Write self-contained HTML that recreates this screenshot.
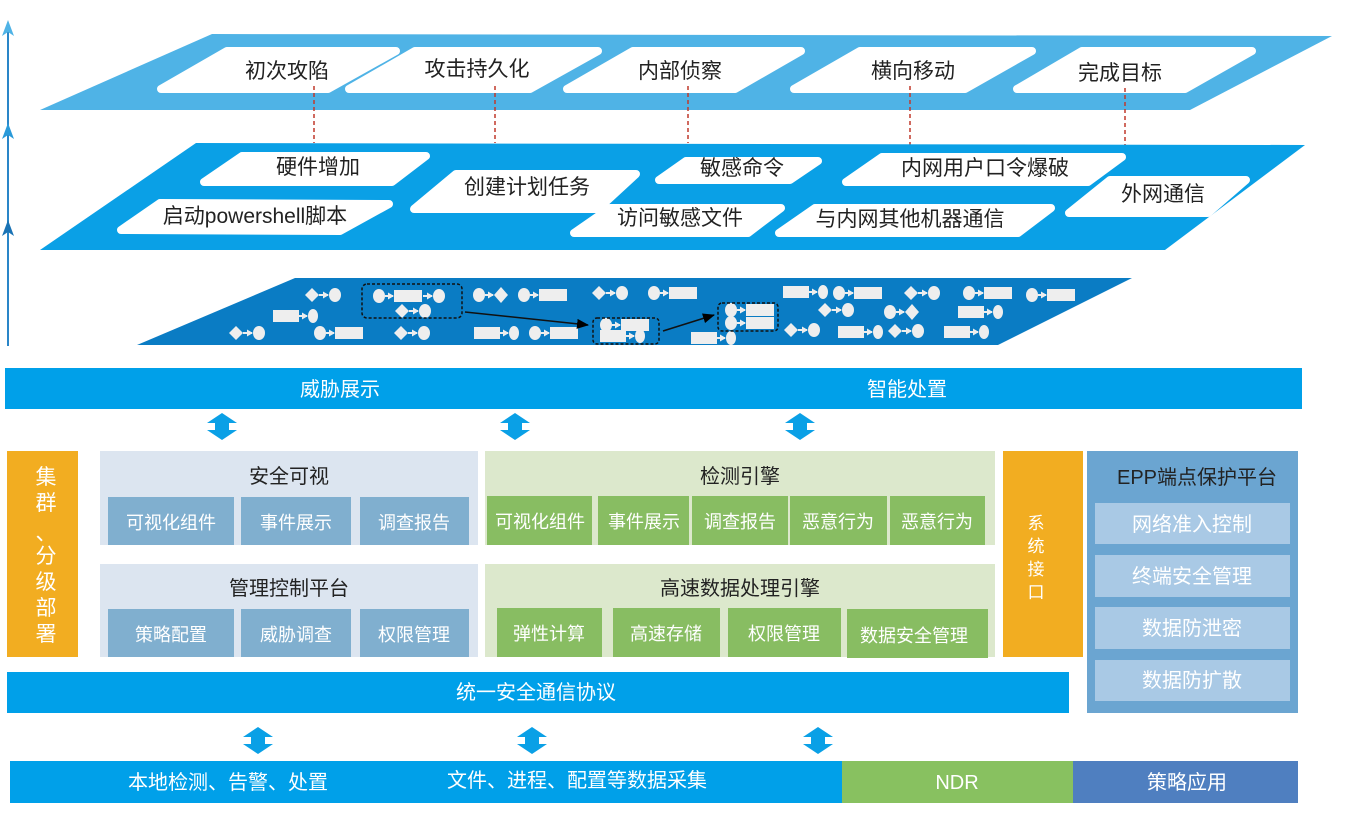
<!DOCTYPE html>
<html><head><meta charset="utf-8"><style>
html,body{margin:0;padding:0;background:#fff;}
svg{display:block;}
text{font-family:"Liberation Sans","Noto Sans CJK SC",sans-serif;}
</style></head><body>
<svg width="1356" height="814" viewBox="0 0 1356 814" xmlns="http://www.w3.org/2000/svg">
<defs>
<marker id="ah" markerUnits="userSpaceOnUse" markerWidth="6" markerHeight="7" refX="5" refY="3.5" orient="auto"><path d="M0,0 L6,3.5 L0,7 z" fill="#eee"/></marker>
<marker id="bh" markerUnits="userSpaceOnUse" markerWidth="12" markerHeight="10" refX="11" refY="5" orient="auto"><path d="M0,0 L12,5 L0,10 z" fill="#000"/></marker>
<g id="DC"><path d="M0,0 L7,-7 L14,0 L7,7z" fill="#eee"/><line x1="14" y1="0" x2="23" y2="0" stroke="#eee" stroke-width="2" marker-end="url(#ah)"/><ellipse cx="30" cy="0" rx="6" ry="7" fill="#eee"/></g>
<g id="CR"><ellipse cx="6" cy="0" rx="6" ry="7" fill="#eee"/><line x1="12" y1="0" x2="20" y2="0" stroke="#eee" stroke-width="2" marker-end="url(#ah)"/><rect x="21" y="-6" width="28" height="12" fill="#eee"/></g>
<g id="RC"><rect x="0" y="-6" width="26" height="12" fill="#eee"/><line x1="26" y1="0" x2="34" y2="0" stroke="#eee" stroke-width="2" marker-end="url(#ah)"/><ellipse cx="40" cy="0" rx="5" ry="7" fill="#eee"/></g>
<g id="CD"><ellipse cx="6" cy="0" rx="6" ry="7" fill="#eee"/><line x1="12" y1="0" x2="20" y2="0" stroke="#eee" stroke-width="2" marker-end="url(#ah)"/><path d="M21,0 L28,-8 L35,0 L28,8z" fill="#eee"/></g>
<g id="DA"><path d="M0,0 L15,10 L7,10 L7,17 L15,17 L0,27 L-15,17 L-7,17 L-7,10 L-15,10z" fill="#0aa0e6"/></g>
</defs>

<!-- left axis -->
<line x1="8" y1="24" x2="8" y2="346" stroke="#2a86c8" stroke-width="2"/>
<path d="M8,20 L2,36 L8,32 L14,36z" fill="#4fb3e6"/>
<path d="M8,123 L2,139 L8,135 L14,139z" fill="#2a9ad9"/>
<path d="M8,220 L2,236 L8,232 L14,236z" fill="#1a73b5"/>

<!-- top layer -->
<polygon points="40,110 212,34 1332,36 1190,110" fill="#4fb3e6"/>
<g fill="#fff" stroke="#fff" stroke-width="8" stroke-linejoin="round">
<polygon points="161,89 227,51 396,51 328,89"/>
<polygon points="349,89 415,51 598,51 530,89"/>
<polygon points="567,89 633,51 801,51 735,89"/>
<polygon points="794,89 860,51 1032,51 965,89"/>
<polygon points="1017,89 1082,51 1252,51 1185,89"/>
</g>
<g font-size="21" fill="#222" text-anchor="middle">
<text x="287" y="78">初次攻陷</text>
<text x="477" y="76">攻击持久化</text>
<text x="680" y="78">内部侦察</text>
<text x="913" y="78">横向移动</text>
<text x="1120" y="80">完成目标</text>
</g>
<g stroke="#c0392b" stroke-width="1.5" stroke-dasharray="4,3">
<line x1="314" y1="86" x2="314" y2="143"/>
<line x1="495" y1="86" x2="495" y2="143"/>
<line x1="688" y1="86" x2="688" y2="143"/>
<line x1="910" y1="86" x2="910" y2="145"/>
<line x1="1125" y1="88" x2="1125" y2="145"/>
</g>

<!-- second layer -->
<polygon points="40,250 196,143 1305,145 1165,250" fill="#0aa0e6"/>
<g fill="#fff" stroke="#fff" stroke-width="8" stroke-linejoin="round">
<polygon points="204,182 242,156 426,156 392,182"/>
<polygon points="121,230 160,203 389,204 340,231"/>
<polygon points="414,209 456,174 636,174 598,209"/>
<polygon points="659,180 686,161 818,161 790,180"/>
<polygon points="574,233 610,208 781,208 748,233"/>
<polygon points="846,182 882,157 1122,157 1088,182"/>
<polygon points="779,233 815,208 1051,208 1018,233"/>
<polygon points="1069,213 1110,180 1246,180 1208,213"/>
</g>
<g font-size="21" fill="#222" text-anchor="middle">
<text x="318" y="174">硬件增加</text>
<text x="255" y="223">启动powershell脚本</text>
<text x="527" y="194">创建计划任务</text>
<text x="742" y="175">敏感命令</text>
<text x="680" y="225">访问敏感文件</text>
<text x="985" y="175">内网用户口令爆破</text>
<text x="910" y="226">与内网其他机器通信</text>
<text x="1163" y="201">外网通信</text>
</g>

<!-- third layer -->
<polygon points="137,345 295,278 1132,278 998,345" fill="#0a7cc4"/>
<g>
<use href="#DC" x="305" y="295"/>
<use href="#CD" x="473" y="295"/>
<use href="#CR" x="518" y="295"/>
<use href="#DC" x="592" y="293"/>
<use href="#CR" x="648" y="293"/>
<use href="#RC" x="783" y="292"/>
<use href="#CR" x="833" y="293"/>
<use href="#DC" x="904" y="293"/>
<use href="#CR" x="963" y="293"/>
<use href="#CR" x="1026" y="295"/>
<use href="#RC" x="273" y="316"/>
<use href="#DC" x="818" y="310"/>
<use href="#CD" x="884" y="312"/>
<use href="#RC" x="958" y="312"/>
<use href="#DC" x="229" y="333"/>
<use href="#CR" x="314" y="333"/>
<use href="#DC" x="394" y="333"/>
<use href="#RC" x="474" y="333"/>
<use href="#CR" x="529" y="333"/>
<use href="#RC" x="691" y="338"/>
<use href="#DC" x="784" y="330"/>
<use href="#RC" x="838" y="332"/>
<use href="#DC" x="888" y="331"/>
<use href="#RC" x="944" y="332"/>
<use href="#CR" x="373" y="296"/>
<line x1="423" y1="296" x2="432" y2="296" stroke="#eee" stroke-width="2" marker-end="url(#ah)"/>
<ellipse cx="439" cy="296" rx="6" ry="7" fill="#eee"/>
<use href="#DC" x="395" y="311"/>
<use href="#CR" x="600" y="325"/>
<use href="#RC" x="600" y="336"/>
<use href="#CR" x="725" y="310"/>
<use href="#CR" x="725" y="323"/>
</g>
<g fill="none" stroke="#111" stroke-width="1.5" stroke-dasharray="3,2">
<rect x="362" y="284" width="100" height="34" rx="5"/>
<rect x="593" y="318" width="66" height="26" rx="4"/>
<rect x="718" y="303" width="60" height="28" rx="4"/>
</g>
<line x1="465" y1="312" x2="588" y2="325" stroke="#111" stroke-width="1.5" marker-end="url(#bh)"/>
<line x1="663" y1="331" x2="714" y2="315" stroke="#111" stroke-width="1.5" marker-end="url(#bh)"/>

<!-- top bar -->
<rect x="5" y="368" width="1297" height="41" fill="#00a0e9"/>
<g font-size="20" fill="#fff" text-anchor="middle">
<text x="340" y="396">威胁展示</text>
<text x="907" y="396">智能处置</text>
</g>
<use href="#DA" x="222" y="413"/>
<use href="#DA" x="515" y="413"/>
<use href="#DA" x="800" y="413"/>

<!-- orange left -->
<rect x="7" y="451" width="71" height="206" fill="#f2ad21"/>
<g font-size="21" fill="#fff" text-anchor="middle">
<text x="46" y="484">集</text><text x="46" y="510">群</text>
<text x="46" y="540">、</text>
<text x="46" y="563">分</text><text x="46" y="589">级</text>
<text x="46" y="615">部</text><text x="46" y="641">署</text>
</g>

<!-- panels -->
<rect x="100" y="451" width="378" height="94" fill="#dce5f0"/>
<rect x="100" y="564" width="378" height="93" fill="#dce5f0"/>
<rect x="485" y="451" width="510" height="94" fill="#dce8cc"/>
<rect x="485" y="564" width="510" height="93" fill="#dce8cc"/>
<g fill="#80afcf">
<rect x="108" y="497" width="126" height="48"/><rect x="241" y="497" width="110" height="48"/><rect x="360" y="497" width="109" height="48"/>
<rect x="108" y="609" width="126" height="48"/><rect x="241" y="609" width="110" height="48"/><rect x="360" y="609" width="109" height="48"/>
</g>
<g fill="#88bd62">
<rect x="487" y="496" width="105" height="49"/><rect x="598" y="496" width="91" height="49"/><rect x="692" y="496" width="96" height="49"/><rect x="790" y="496" width="97" height="49"/><rect x="890" y="496" width="95" height="49"/>
<rect x="497" y="608" width="105" height="49"/><rect x="613" y="608" width="107" height="49"/><rect x="728" y="608" width="113" height="49"/><rect x="847" y="609" width="141" height="49"/>
</g>
<g font-size="20" fill="#222" text-anchor="middle">
<text x="289" y="483">安全可视</text>
<text x="289" y="595">管理控制平台</text>
<text x="740" y="483">检测引擎</text>
<text x="740" y="595">高速数据处理引擎</text>
</g>
<g font-size="18" fill="#fff" text-anchor="middle">
<text x="171" y="529">可视化组件</text><text x="296" y="529">事件展示</text><text x="414" y="529">调查报告</text>
<text x="171" y="641">策略配置</text><text x="296" y="641">威胁调查</text><text x="414" y="641">权限管理</text>
<text x="540" y="528">可视化组件</text><text x="644" y="528">事件展示</text><text x="740" y="528">调查报告</text><text x="838" y="528">恶意行为</text><text x="937" y="528">恶意行为</text>
<text x="549" y="640">弹性计算</text><text x="666" y="640">高速存储</text><text x="784" y="640">权限管理</text><text x="914" y="642">数据安全管理</text>
</g>

<!-- system interface -->
<rect x="1003" y="451" width="80" height="206" fill="#f2ad21"/>
<g font-size="17" fill="#fff" text-anchor="middle">
<text x="1036" y="529">系</text><text x="1036" y="552">统</text><text x="1036" y="575">接</text><text x="1036" y="598">口</text>
</g>

<!-- EPP -->
<rect x="1087" y="451" width="211" height="262" fill="#6ba5d1"/>
<text x="1197" y="484" font-size="20" fill="#222" text-anchor="middle">EPP端点保护平台</text>
<g fill="#a9c9e5">
<rect x="1095" y="503" width="195" height="41"/><rect x="1095" y="555" width="195" height="42"/><rect x="1095" y="607" width="195" height="42"/><rect x="1095" y="660" width="195" height="41"/>
</g>
<g font-size="20" fill="#fff" text-anchor="middle">
<text x="1192" y="531">网络准入控制</text><text x="1192" y="583">终端安全管理</text><text x="1192" y="635">数据防泄密</text><text x="1192" y="687">数据防扩散</text>
</g>

<!-- protocol bar -->
<rect x="7" y="672" width="1062" height="41" fill="#00a0e9"/>
<text x="536" y="699" font-size="20" fill="#fff" text-anchor="middle">统一安全通信协议</text>
<use href="#DA" x="258" y="727"/>
<use href="#DA" x="532" y="727"/>
<use href="#DA" x="818" y="727"/>

<!-- bottom bar -->
<rect x="10" y="761" width="833" height="42" fill="#00a0e9"/>
<rect x="842" y="761" width="231" height="42" fill="#88c160"/>
<rect x="1073" y="761" width="225" height="42" fill="#4f7fc0"/>
<g font-size="20" fill="#fff" text-anchor="middle">
<text x="228" y="789">本地检测、告警、处置</text>
<text x="577" y="787">文件、进程、配置等数据采集</text>
<text x="957" y="789">NDR</text>
<text x="1187" y="789">策略应用</text>
</g>
</svg>
</body></html>
